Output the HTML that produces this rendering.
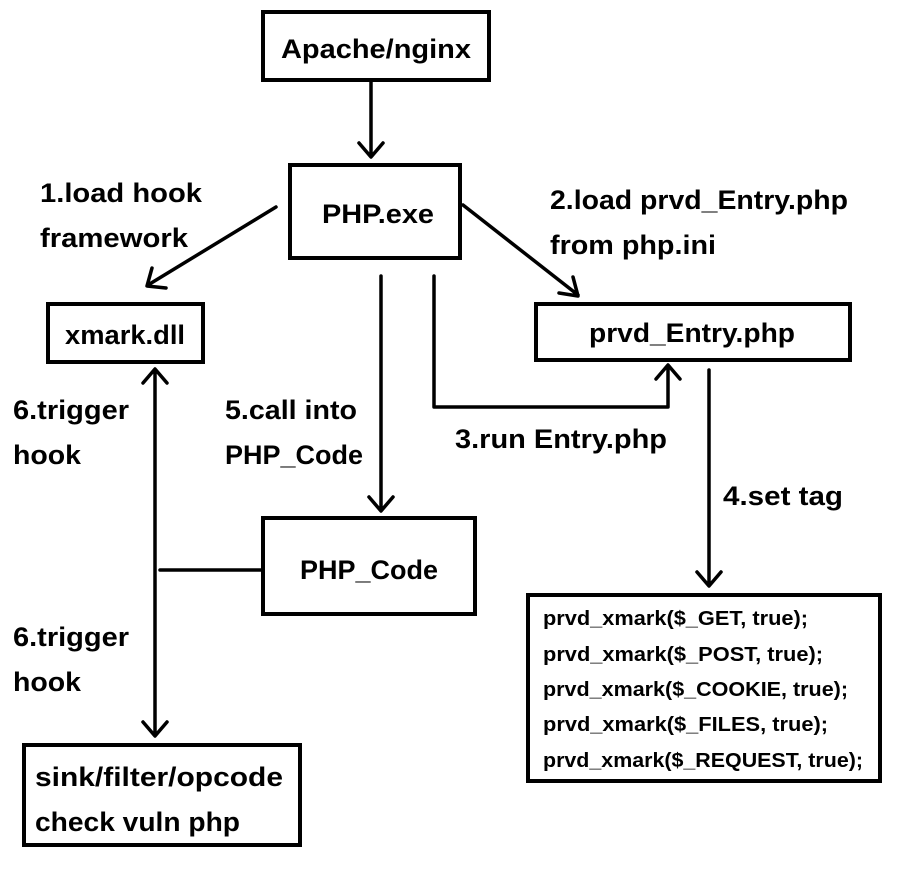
<!DOCTYPE html>
<html><head><meta charset="utf-8"><style>body{margin:0;background:#fff}svg{display:block}</style></head>
<body>
<svg width="901" height="871" viewBox="0 0 901 871" xmlns="http://www.w3.org/2000/svg" font-family="Liberation Sans, sans-serif" font-weight="bold">
<g fill="none" stroke="#000" stroke-width="4">
<rect x="263" y="12" width="226" height="68"/>
<rect x="290" y="165" width="170" height="93"/>
<rect x="48" y="304" width="155" height="58"/>
<rect x="536" y="304" width="314" height="56"/>
<rect x="263" y="518" width="212" height="96"/>
<rect x="528" y="595" width="352" height="186"/>
<rect x="24" y="745" width="276" height="100"/>
</g>
<g fill="none" stroke="#000" stroke-width="3.5" stroke-linecap="round" stroke-linejoin="round">
<path d="M371 82V156M359 143L371 157L383 143"/>
<path d="M276 207L148 285M152 268L147 286L166 288"/>
<path d="M463 205L578 295M559 293L578 296L573 277"/>
<path d="M381 276V510M369 497L381 511L393 497"/>
<path d="M434 276V407H668V366M656 379L668 365L680 379"/>
<path d="M709 370V585M697 572L709 586L721 572"/>
<path d="M155 370V735M143 383L155 369L167 383M143 722L155 736L167 722"/>
<path d="M160 570H263"/>
</g>
<g font-size="27" fill="#000">
<text x="376" y="58" text-anchor="middle" textLength="190" lengthAdjust="spacingAndGlyphs">Apache/nginx</text>
<text x="378" y="223" text-anchor="middle" textLength="112" lengthAdjust="spacingAndGlyphs">PHP.exe</text>
<text x="125" y="344" text-anchor="middle" textLength="120" lengthAdjust="spacingAndGlyphs">xmark.dll</text>
<text x="692" y="342" text-anchor="middle" textLength="206" lengthAdjust="spacingAndGlyphs">prvd_Entry.php</text>
<text x="369" y="579" text-anchor="middle" textLength="138" lengthAdjust="spacingAndGlyphs">PHP_Code</text>
<text x="35" y="786" textLength="248" lengthAdjust="spacingAndGlyphs">sink/filter/opcode</text>
<text x="35" y="831" textLength="205" lengthAdjust="spacingAndGlyphs">check vuln php</text>
<text x="40" y="202" textLength="162" lengthAdjust="spacingAndGlyphs">1.load hook</text>
<text x="40" y="247" textLength="148" lengthAdjust="spacingAndGlyphs">framework</text>
<text x="550" y="209" textLength="298" lengthAdjust="spacingAndGlyphs">2.load prvd_Entry.php</text>
<text x="550" y="254" textLength="166" lengthAdjust="spacingAndGlyphs">from php.ini</text>
<text x="13" y="419" textLength="116" lengthAdjust="spacingAndGlyphs">6.trigger</text>
<text x="13" y="464" textLength="68" lengthAdjust="spacingAndGlyphs">hook</text>
<text x="225" y="419" textLength="132" lengthAdjust="spacingAndGlyphs">5.call into</text>
<text x="225" y="464" textLength="138" lengthAdjust="spacingAndGlyphs">PHP_Code</text>
<text x="455" y="448" textLength="212" lengthAdjust="spacingAndGlyphs">3.run Entry.php</text>
<text x="723" y="505" textLength="120" lengthAdjust="spacingAndGlyphs">4.set tag</text>
<text x="13" y="646" textLength="116" lengthAdjust="spacingAndGlyphs">6.trigger</text>
<text x="13" y="691" textLength="68" lengthAdjust="spacingAndGlyphs">hook</text>
</g>
<g font-size="20" fill="#000">
<text x="543" y="625" textLength="265" lengthAdjust="spacingAndGlyphs">prvd_xmark($_GET, true);</text>
<text x="543" y="661" textLength="280" lengthAdjust="spacingAndGlyphs">prvd_xmark($_POST, true);</text>
<text x="543" y="696" textLength="305" lengthAdjust="spacingAndGlyphs">prvd_xmark($_COOKIE, true);</text>
<text x="543" y="731" textLength="285" lengthAdjust="spacingAndGlyphs">prvd_xmark($_FILES, true);</text>
<text x="543" y="767" textLength="320" lengthAdjust="spacingAndGlyphs">prvd_xmark($_REQUEST, true);</text>
</g>
</svg>
</body></html>
